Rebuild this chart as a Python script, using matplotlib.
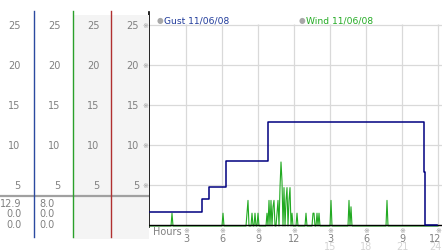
import numpy as np
import matplotlib
matplotlib.use("Agg")
import matplotlib.pyplot as plt
import matplotlib.transforms as mtransforms

# ---------------- data ----------------
y_ticks = [5, 10, 15, 20, 25]
hour_ticks = [3, 6, 9, 12, 15, 18, 21, 24]
hour_labels_top = ['3', '6', '9', '12', '3', '6', '9', '12']
hour_labels_bottom = ['', '', '', '', '15', '18', '21', '24']

gust_hours = [0.0, 4.3, 4.95, 6.33, 9.8, 22.83, 22.92, 23.9]
gust_values = [1.6, 3.2, 4.8, 8.0, 12.9, 6.6, 0.0, 0.0]

wind_spike_hours = [1.86, 6.1, 8.05, 8.19, 8.52, 8.75, 8.97, 9.72, 9.92, 10.08,
                    10.22, 10.36, 10.56, 10.69, 10.83, 10.92, 11.03, 11.19, 11.31,
                    11.42, 11.58, 11.69, 11.81, 12.28, 13.0, 13.56, 13.67, 13.94,
                    14.11, 15.08, 16.61, 16.72, 19.78]
wind_spike_values = [1.6, 1.6, 1.6, 3.2, 1.6, 1.6, 1.6, 1.6, 3.2, 3.2,
                     2.4, 3.2, 1.6, 3.2, 4.8, 8.0, 5.6, 4.8, 3.2,
                     4.8, 3.2, 4.8, 1.6, 1.6, 1.6, 1.6, 1.6, 1.6,
                     1.6, 3.2, 3.2, 2.4, 3.2]
wind_step = 1 / 12  # 5-minute samples

col_values = [['12.9', '0.0', '0.0'], ['8.0', '0.0', '0.0']]
gust_label = 'Gust 11/06/08'
wind_label = 'Wind 11/06/08'

# ---------------- figure ----------------
W, H = 442, 253
fig = plt.figure(figsize=(W / 100, H / 100), dpi=100)
fig.patch.set_facecolor('white')

GRAY = '#808080'
FS = 7

# main axes: pixel x = 150 + 12*h ; pixel y = 226 - 8*v
ax_left_px, ax_right_px = 149, 442
ax_top_px, ax_bot_px = 13.2, 227.6
ax = fig.add_axes([ax_left_px / W, (H - ax_bot_px) / H,
                   (ax_right_px - ax_left_px) / W, (ax_bot_px - ax_top_px) / H])
ax.set_xlim(-1 / 12, 24 + 1 / 3)
ax.set_ylim(-0.2, 26.6)
ax.set_facecolor('white')
for s in ['top', 'right', 'bottom']:
    ax.spines[s].set_visible(False)
ax.spines['left'].set_color('black')
ax.spines['left'].set_linewidth(1.2)
ax.set_xticks([])
ax.set_yticks([])

# grid
for v in y_ticks:
    ax.axhline(v, color='#d9d9d9', lw=0.9, zorder=1)
ax.vlines(hour_ticks, 0, 25.15, color='#d9d9d9', lw=0.9, zorder=1)

# wind series
t = np.arange(0, 24 + 1e-9, wind_step)
wind = np.zeros_like(t)
for h, v in zip(wind_spike_hours, wind_spike_values):
    wind[int(round(h / wind_step))] = v
wind_tr = mtransforms.offset_copy(ax.transData, fig=fig, x=0, y=-1, units='dots')
ax.plot(t, wind, color='#22aa22', lw=0.8, zorder=3, transform=wind_tr, clip_on=False)

# baseline
ax.axhline(0, color='black', lw=1.0, zorder=4)

# gust series
ax.plot(gust_hours, gust_values, drawstyle='steps-post', color='#000080', lw=1.1, zorder=5)

# x tick labels
for h, l1, l2 in zip(hour_ticks, hour_labels_top, hour_labels_bottom):
    dx = -3 if h == hour_ticks[-1] else 0
    ax.annotate(l1, xy=(h, 0), xycoords=('data', 'axes fraction'), xytext=(dx, -11.0),
                textcoords='offset pixels', ha='center', va='center', fontsize=FS,
                color=GRAY, annotation_clip=False)
    if l2:
        ax.annotate(l2, xy=(h, 0), xycoords=('data', 'axes fraction'), xytext=(dx, -19.8),
                    textcoords='offset pixels', ha='center', va='center', fontsize=FS,
                    color='#d4d4d4', annotation_clip=False)
    ax.annotate('※', xy=(h, 0), xycoords=('data', 'axes fraction'), xytext=(0, -3.2),
                textcoords='offset pixels', ha='center', va='center', fontsize=5,
                color='#999999', annotation_clip=False)
ax.annotate('Hours', xy=(0, 0), xycoords=('axes fraction', 'axes fraction'), xytext=(4, -4.3),
            textcoords='offset pixels', ha='left', va='center', fontsize=FS,
            color=GRAY, annotation_clip=False)

# legend
def fx(x):
    return x / W

def fy(y):
    return 1 - y / H

fig.text(fx(156.5), fy(20.8), '●', fontsize=5.5, color='#a8a8a8', ha='left', va='center')
fig.text(fx(164.5), fy(20.5), gust_label, fontsize=6.6, color='#1f3a9a', ha='left', va='center')
fig.text(fx(298.5), fy(20.8), '●', fontsize=5.5, color='#a8a8a8', ha='left', va='center')
fig.text(fx(305.5), fy(20.5), wind_label, fontsize=6.6, color='#22aa22', ha='left', va='center')

# ---------------- left panel ----------------
axl = fig.add_axes([0, 0, 149 / W, 1])
axl.set_xlim(0, 149)
axl.set_ylim(-27 / 8, 226 / 8)
axl.axis('off')

def vy(y):
    return (226 - y) / 8

axl.fill_between([73, 148.5], vy(240), vy(16), color='#f4f4f4', lw=0, zorder=0)
axl.plot([0, 149], [vy(197.3)] * 2, color='#a0a0a0', lw=1.6, zorder=2)
for x, c in [(33.5, '#2b4aa0'), (72.5, '#2aa02a'), (111.3, '#b03030')]:
    axl.plot([x, x], [vy(12), vy(238)], color=c, lw=1.0, zorder=3)

label_right = [20.5, 60.5, 99.5, 139]
for v in y_ticks:
    for xr in label_right:
        axl.text(xr, v, str(v), ha='right', va='center', fontsize=FS, color=GRAY)
    axl.text(145.7, v, '※', ha='center', va='center', fontsize=5, color='#999999')

val_right = [21.5, 54.5]
val_y = [204.3, 214.5, 225.2]
for xr, vals in zip(val_right, col_values):
    for yy, s in zip(val_y, vals):
        axl.text(xr, vy(yy), s, ha='right', va='center', fontsize=FS, color=GRAY)

fig.savefig('out.png', dpi=100, facecolor='white')
